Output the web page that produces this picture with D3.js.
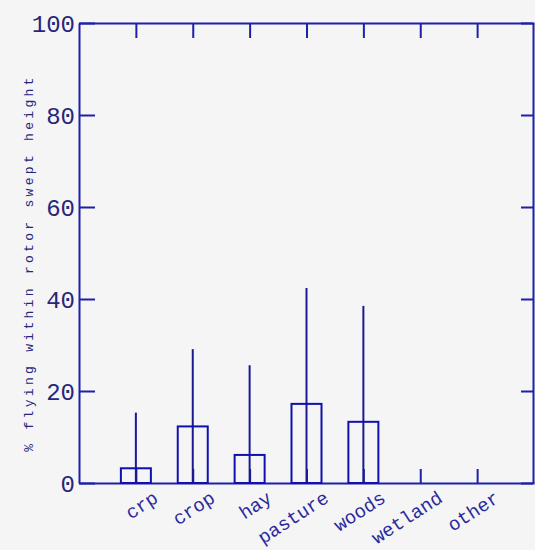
<!DOCTYPE html>
<html>
<head>
<meta charset="utf-8">
<script src="https://cdn.jsdelivr.net/npm/d3@7"></script>
<style>
  html, body { margin: 0; padding: 0; background: #f5f5f6; }
  svg { display: block; }
  text { font-family: "Liberation Mono", "DejaVu Sans Mono", monospace; }
</style>
</head>
<body>
<svg id="chart" width="535" height="550"></svg>
<script>
// Habitat categories and the share of flights within rotor swept height
const categories = ["crp", "crop", "hay", "pasture", "woods", "wetland", "other"];
const means = [3.2, 12.3, 6.1, 17.2, 13.3, 0, 0];
const upper = [15.3, 29.1, 25.6, 42.4, 38.5, 0, 0];
const yTicks = [0, 20, 40, 60, 80, 100];

const W = 535, H = 550;
const margin = { left: 79, right: 1, top: 23, bottom: 67 };
const svg = d3.select("#chart");

const axisColor = "#1f1fa8";
const textColor = "#26267a";

const x = d3.scaleLinear().domain([0, categories.length + 1]).range([margin.left, W - margin.right]);
const y = d3.scaleLinear().domain([0, 100]).range([H - margin.bottom, margin.top]);
const pos = categories.map((c, i) => i + 1);

// frame: left axis with labels, top/right/bottom with inward ticks
const gLeft = svg.append("g").attr("transform", `translate(${x(0)},0)`)
  .call(d3.axisLeft(y).tickValues(yTicks).tickSizeInner(-16).tickSizeOuter(0).tickPadding(4));
const gRight = svg.append("g").attr("transform", `translate(${x(8) - 1},0)`)
  .call(d3.axisRight(y).tickValues(yTicks).tickSizeInner(-12).tickSizeOuter(0).tickFormat(""));
const gTop = svg.append("g").attr("transform", `translate(0,${y(100)})`)
  .call(d3.axisTop(x).tickValues(pos).tickSizeInner(-15).tickSizeOuter(0).tickFormat(""));
const gBottom = svg.append("g").attr("transform", `translate(0,${y(0)})`)
  .call(d3.axisBottom(x).tickValues(pos).tickSizeInner(-14).tickSizeOuter(0)
    .tickFormat((d, i) => categories[i]));

[gLeft, gRight, gTop, gBottom].forEach(g => {
  g.select(".domain").attr("stroke", axisColor).attr("stroke-width", 2);
  g.selectAll(".tick line").attr("stroke", axisColor).attr("stroke-width", 2);
});

gLeft.selectAll(".tick text")
  .attr("fill", textColor)
  .style("font-size", "24px")
  .attr("dy", "0.35em");

gBottom.selectAll(".tick text")
  .attr("fill", "#2a2a9c")
  .style("font-size", "19px")
  .attr("text-anchor", "end")
  .attr("y", 0).attr("dy", 0)
  .attr("transform", "translate(23,18) rotate(-33)");

// bars (outlined) with upper whiskers
const plot = svg.append("g");
plot.selectAll("line.whisker")
  .data(categories.map((c, i) => ({ c, i })).filter(d => upper[d.i] > 0))
  .join("line")
  .attr("class", "whisker")
  .attr("x1", d => x(pos[d.i])).attr("x2", d => x(pos[d.i]))
  .attr("y1", y(0)).attr("y2", d => y(upper[d.i]))
  .attr("stroke", "#1a1a90").attr("stroke-width", 2);

plot.selectAll("rect.bar")
  .data(categories.map((c, i) => ({ c, i })).filter(d => means[d.i] > 0))
  .join("rect")
  .attr("class", "bar")
  .attr("x", d => x(pos[d.i]) - 15)
  .attr("width", 30)
  .attr("y", d => y(means[d.i]))
  .attr("height", d => y(0) - y(means[d.i]))
  .attr("fill", "none")
  .attr("stroke", "#1010b0").attr("stroke-width", 2);

// y-axis title
svg.append("text")
  .attr("transform", `translate(33,${(73 + 453) / 2}) rotate(-90)`)
  .attr("text-anchor", "middle")
  .attr("fill", textColor)
  .style("font-size", "13px")
  .style("letter-spacing", "3.3px")
  .text("% flying within rotor swept height");
</script>
</body>
</html>
